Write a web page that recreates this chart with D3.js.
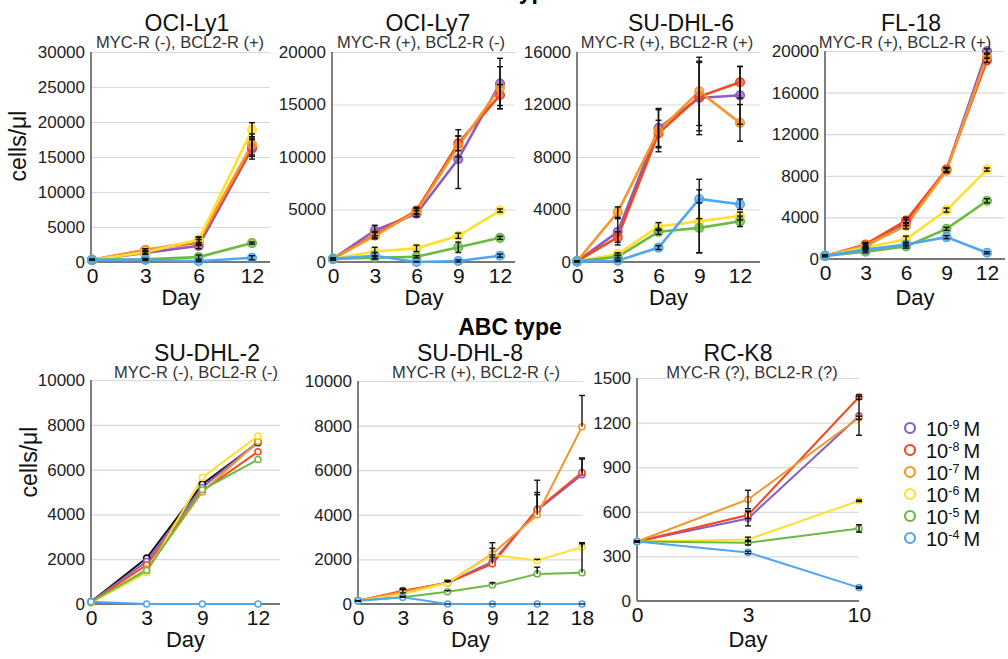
<!DOCTYPE html>
<html lang="en">
<head>
<meta charset="UTF-8">
<title>Cell growth</title>
<script src="https://d3js.org/d3.v7.min.js"></script>
<style>
  body { margin: 0; background: #fff; }
  text { font-family: "Liberation Sans", Arial, Helvetica, sans-serif; }
</style>
</head>
<body>
<svg id="chart" width="1008" height="659"></svg>
<script>
// series order: 10-9, 10-8, 10-7, 10-6, 10-5, 10-4 M
const doseLabels = ["-9", "-8", "-7", "-6", "-5", "-4"];
const doseColors = ["#8d5cc2", "#f5481f", "#f5962a", "#ffe02e", "#6cb943", "#4fa6f2"];

// OCI-Ly1
const ly1Days = ["0", "3", "6", "12"];
const ly1Values = [
    [300, 1300, 2300, 16200],
    [300, 1700, 2800, 16300],
    [300, 1700, 3000, 16800],
    [300, 1400, 3200, 18900],
    [300, 400, 700, 2700],
    [300, 300, 100, 600]
];
const ly1Err = [
    [60, 200, 400, 1500],
    [60, 200, 400, 1200],
    [60, 200, 500, 1500],
    [60, 200, 400, 1000],
    [60, 100, 300, 150],
    [60, 100, 50, 300]
];

// OCI-Ly7
const ly7Days = ["0", "3", "6", "9", "12"];
const ly7Values = [
    [300, 3000, 4600, 9800, 17000],
    [300, 2600, 4900, 11300, 15900],
    [300, 2500, 4800, 11000, 16600],
    [300, 1000, 1300, 2500, 4900],
    [300, 400, 500, 1400, 2300],
    [300, 600, 0, 100, 600]
];
const ly7Err = [
    [100, 500, 300, 2800, 2400],
    [100, 300, 300, 700, 1000],
    [100, 300, 300, 1000, 2000],
    [50, 400, 300, 250, 150],
    [50, 100, 100, 500, 150],
    [50, 300, 50, 100, 150]
];

// SU-DHL-6
const dhl6Days = ["0", "3", "6", "9", "12"];
const dhl6Values = [
    [50, 2300, 10200, 12500, 12700],
    [50, 1900, 9800, 12600, 13700],
    [50, 3800, 10000, 13000, 10600],
    [50, 600, 2700, 3100, 3500],
    [50, 400, 2300, 2600, 3100],
    [50, 100, 1100, 4800, 4400]
];
const dhl6Err = [
    [20, 1000, 1500, 2800, 2200],
    [20, 400, 1000, 2600, 1200],
    [20, 400, 1600, 2600, 1400],
    [20, 100, 300, 2400, 300],
    [20, 100, 200, 1900, 400],
    [20, 50, 150, 1500, 400]
];

// FL-18
const fl18Days = ["0", "3", "6", "9", "12"];
const fl18Values = [
    [300, 1200, 3500, 8600, 20000],
    [300, 1400, 3700, 8600, 19100],
    [300, 1300, 3200, 8500, 19500],
    [300, 1100, 1900, 4700, 8600],
    [300, 700, 1200, 2900, 5600],
    [300, 900, 1400, 2100, 600]
];
const fl18Err = [
    [50, 200, 300, 200, 200],
    [50, 200, 300, 200, 200],
    [50, 200, 300, 200, 200],
    [50, 150, 300, 200, 150],
    [50, 100, 150, 150, 200],
    [50, 100, 150, 150, 100]
];

// SU-DHL-2 (black control line drawn first)
const dhl2Days = ["0", "3", "9", "12"];
const dhl2Control = [100, 2050, 5350, 7200];
const dhl2Values = [
    [100, 1900, 5200, 7250],
    [80, 1750, 5050, 6800],
    [50, 1550, 5000, 7250],
    [60, 1400, 5650, 7500],
    [90, 1500, 5100, 6450],
    [100, 0, 0, 0]
];

// SU-DHL-8 (error bars drawn upward only)
const dhl8Days = ["0", "3", "6", "9", "12", "18"];
const dhl8Values = [
    [150, 550, 950, 1900, 4200, 5800],
    [150, 600, 950, 1800, 4250, 5900],
    [150, 550, 950, 2250, 4000, 7950],
    [150, 450, 950, 2200, 1950, 2550],
    [150, 300, 550, 850, 1350, 1400],
    [150, 300, 0, 0, 0, 0]
];
const dhl8Err = [
    [0, 100, 100, 300, 800, 700],
    [0, 100, 100, 300, 1300, 650],
    [0, 100, 100, 500, 900, 1400],
    [0, 50, 50, 300, 50, 200],
    [0, 50, 50, 100, 300, 1300],
    [0, 0, 0, 0, 0, 0]
];

// RC-K8
const rck8Days = ["0", "3", "10"];
const rck8Values = [
    [400, 555, 1245],
    [400, 578, 1372],
    [400, 683, 1233],
    [400, 414, 674],
    [400, 392, 488],
    [400, 327, 90]
];
const rck8Err = [
    [5, 50, 130],
    [5, 25, 15],
    [5, 62, 10],
    [5, 15, 5],
    [5, 15, 25],
    [5, 8, 5]
];

const svg = d3.select("#chart");
const font = "'Liberation Sans', Arial, Helvetica, sans-serif";

function drawPanel(p) {
    const g = svg.append("g");
    const x = d3.scalePoint().domain(p.days).range([p.x0, p.x1]);
    const y = d3.scaleLinear().domain([0, p.yMax]).range([p.yBottom, p.yTop]);

    // gridlines
    g.append("g")
        .attr("transform", `translate(${p.axisX},0)`)
        .call(d3.axisLeft(y).tickValues(p.yTicks).tickSize(-(p.right - p.axisX)).tickFormat(""))
        .call(s => s.select(".domain").remove())
        .call(s => s.selectAll("line").attr("stroke", "#d9d9d9").attr("stroke-width", 1.2));

    // y axis
    g.append("g")
        .attr("transform", `translate(${p.axisX},0)`)
        .call(d3.axisLeft(y).tickValues(p.yTicks).tickSize(0).tickPadding(6).tickFormat(d3.format("d")))
        .call(s => s.select(".domain").remove())
        .call(s => s.selectAll("text").style("font-family", font).style("font-size", "17px").attr("fill", "#222"));

    g.append("line")
        .attr("x1", p.axisX).attr("x2", p.axisX)
        .attr("y1", p.yTop).attr("y2", p.yBottom)
        .attr("stroke", "#555").attr("stroke-width", 1.5);

    // x axis
    g.append("g")
        .attr("transform", `translate(0,${p.yBottom})`)
        .call(d3.axisBottom(x).tickSize(0).tickPadding(6))
        .call(s => s.select(".domain").remove())
        .call(s => s.selectAll("text").style("font-family", font).style("font-size", "21px").attr("fill", "#111"));

    g.append("line")
        .attr("x1", p.axisX).attr("x2", p.right)
        .attr("y1", p.yBottom).attr("y2", p.yBottom)
        .attr("stroke", "#777").attr("stroke-width", 2);

    const line = d3.line().x((d, i) => x(p.days[i])).y(d => y(d));

    const series = p.values.map((v, k) => ({ v: v, e: p.errs ? p.errs[k] : null, color: doseColors[k] }));
    if (p.control) series.unshift({ v: p.control, e: null, color: "#111" });

    series.forEach(s => {
        g.append("path")
            .datum(s.v)
            .attr("fill", "none")
            .attr("stroke", s.color)
            .attr("stroke-width", p.lineWidth)
            .attr("d", line);
    });

    series.forEach(s => {
        g.selectAll(null)
            .data(s.v)
            .enter().append("circle")
            .attr("cx", (d, i) => x(p.days[i]))
            .attr("cy", d => y(d))
            .attr("r", p.filled ? 4.3 : 3)
            .attr("fill", p.filled ? s.color : "#fff")
            .attr("fill-opacity", p.filled ? 0.7 : 1)
            .attr("stroke", s.color)
            .attr("stroke-width", p.filled ? 1.5 : 1.6);
    });

    // error bars
    series.forEach(s => {
        if (!s.e) return;
        s.v.forEach((d, i) => {
            const cx = x(p.days[i]);
            const hi = y(d + s.e[i]);
            const lo = p.upOnly ? y(d) : y(Math.max(0, d - s.e[i]));
            const eg = g.append("g").attr("stroke", "#111").attr("stroke-width", 1.4);
            eg.append("line").attr("x1", cx).attr("x2", cx).attr("y1", hi).attr("y2", lo);
            eg.append("line").attr("x1", cx - 3).attr("x2", cx + 3).attr("y1", hi).attr("y2", hi);
            if (!p.upOnly) eg.append("line").attr("x1", cx - 3).attr("x2", cx + 3).attr("y1", lo).attr("y2", lo);
        });
    });

    // titles
    g.append("text")
        .attr("x", p.titleX).attr("y", p.titleY)
        .attr("text-anchor", "middle")
        .style("font-size", "23px").attr("fill", "#111")
        .text(p.title);
    g.append("text")
        .attr("x", p.subX).attr("y", p.titleY + 17)
        .attr("text-anchor", "middle")
        .style("font-size", "16.5px").attr("fill", "#333")
        .text(p.subtitle);

    g.append("text")
        .attr("x", (p.x0 + p.right) / 2).attr("y", p.dayY)
        .attr("text-anchor", "middle")
        .style("font-size", "22px").attr("fill", "#111")
        .text("Day");
}

const topTicks20k = [0, 5000, 10000, 15000, 20000];

drawPanel({ days: ly1Days, values: ly1Values, errs: ly1Err, yMax: 30000,
    yTicks: [0, 5000, 10000, 15000, 20000, 25000, 30000],
    axisX: 91, x0: 92, x1: 252, right: 270, yTop: 52, yBottom: 262,
    title: "OCI-Ly1", subtitle: "MYC-R (-), BCL2-R (+)", titleX: 187, subX: 180, titleY: 31, dayY: 305,
    filled: true, lineWidth: 2.6 });

drawPanel({ days: ly7Days, values: ly7Values, errs: ly7Err, yMax: 20000, yTicks: topTicks20k,
    axisX: 332, x0: 333, x1: 500, right: 515, yTop: 52, yBottom: 262,
    title: "OCI-Ly7", subtitle: "MYC-R (+), BCL2-R (-)", titleX: 428, subX: 421, titleY: 31, dayY: 305,
    filled: true, lineWidth: 2.6 });

drawPanel({ days: dhl6Days, values: dhl6Values, errs: dhl6Err, yMax: 16000,
    yTicks: [0, 4000, 8000, 12000, 16000],
    axisX: 577, x0: 577, x1: 740, right: 760, yTop: 52, yBottom: 262,
    title: "SU-DHL-6", subtitle: "MYC-R (+), BCL2-R (+)", titleX: 681, subX: 667, titleY: 31, dayY: 305,
    filled: true, lineWidth: 2.6 });

drawPanel({ days: fl18Days, values: fl18Values, errs: fl18Err, yMax: 20000,
    yTicks: [0, 4000, 8000, 12000, 16000, 20000],
    axisX: 825, x0: 825, x1: 987, right: 1005, yTop: 51, yBottom: 259,
    title: "FL-18", subtitle: "MYC-R (+), BCL2-R (+)", titleX: 911, subX: 905, titleY: 31, dayY: 305,
    filled: true, lineWidth: 2.6 });

drawPanel({ days: dhl2Days, values: dhl2Values, errs: null, control: dhl2Control, yMax: 10000,
    yTicks: [0, 2000, 4000, 6000, 8000, 10000],
    axisX: 91, x0: 91, x1: 258, right: 280, yTop: 380, yBottom: 604,
    title: "SU-DHL-2", subtitle: "MYC-R (-), BCL2-R (-)", titleX: 207, subX: 196, titleY: 361, dayY: 647,
    filled: false, lineWidth: 2 });

drawPanel({ days: dhl8Days, values: dhl8Values, errs: dhl8Err, upOnly: true, yMax: 10000,
    yTicks: [0, 2000, 4000, 6000, 8000, 10000],
    axisX: 358, x0: 358, x1: 582, right: 583, yTop: 381, yBottom: 604,
    title: "SU-DHL-8", subtitle: "MYC-R (+), BCL2-R (-)", titleX: 470, subX: 476, titleY: 361, dayY: 647,
    filled: false, lineWidth: 2 });

drawPanel({ days: rck8Days, values: rck8Values, errs: rck8Err, yMax: 1500,
    yTicks: [0, 300, 600, 900, 1200, 1500],
    axisX: 637, x0: 637, x1: 859, right: 859, yTop: 378, yBottom: 601,
    title: "RC-K8", subtitle: "MYC-R (?), BCL2-R (?)", titleX: 738, subX: 752, titleY: 361, dayY: 647,
    filled: false, lineWidth: 2 });

// y axis labels
[[26, 146], [37, 462]].forEach(([lx, ly]) => {
    svg.append("text")
        .attr("transform", `translate(${lx},${ly}) rotate(-90)`)
        .attr("text-anchor", "middle")
        .style("font-size", "23px").attr("fill", "#111")
        .text("cells/μl");
});

// group headings (the upper one sits mostly above the picture edge)
svg.append("text")
    .attr("x", 506).attr("y", -1)
    .attr("text-anchor", "middle")
    .style("font-size", "23px").style("font-weight", "bold")
    .text("GCB type");
svg.append("text")
    .attr("x", 510).attr("y", 335)
    .attr("text-anchor", "middle")
    .style("font-size", "23px").style("font-weight", "bold")
    .text("ABC type");

// legend
const legend = svg.append("g").attr("transform", "translate(910,428)");
doseLabels.forEach((lab, i) => {
    const row = legend.append("g").attr("transform", `translate(0,${i * 22})`);
    row.append("circle").attr("r", 5).attr("fill", "#fff")
        .attr("stroke", doseColors[i]).attr("stroke-width", 2.2);
    const t = row.append("text").attr("x", 16).attr("y", 7.5)
        .style("font-size", "20px").attr("fill", "#111");
    t.append("tspan").text("10");
    t.append("tspan").attr("dy", -7).style("font-size", "12.5px").text(lab);
    t.append("tspan").attr("dy", 7).attr("dx", 4).text("M");
});
</script>
</body>
</html>
